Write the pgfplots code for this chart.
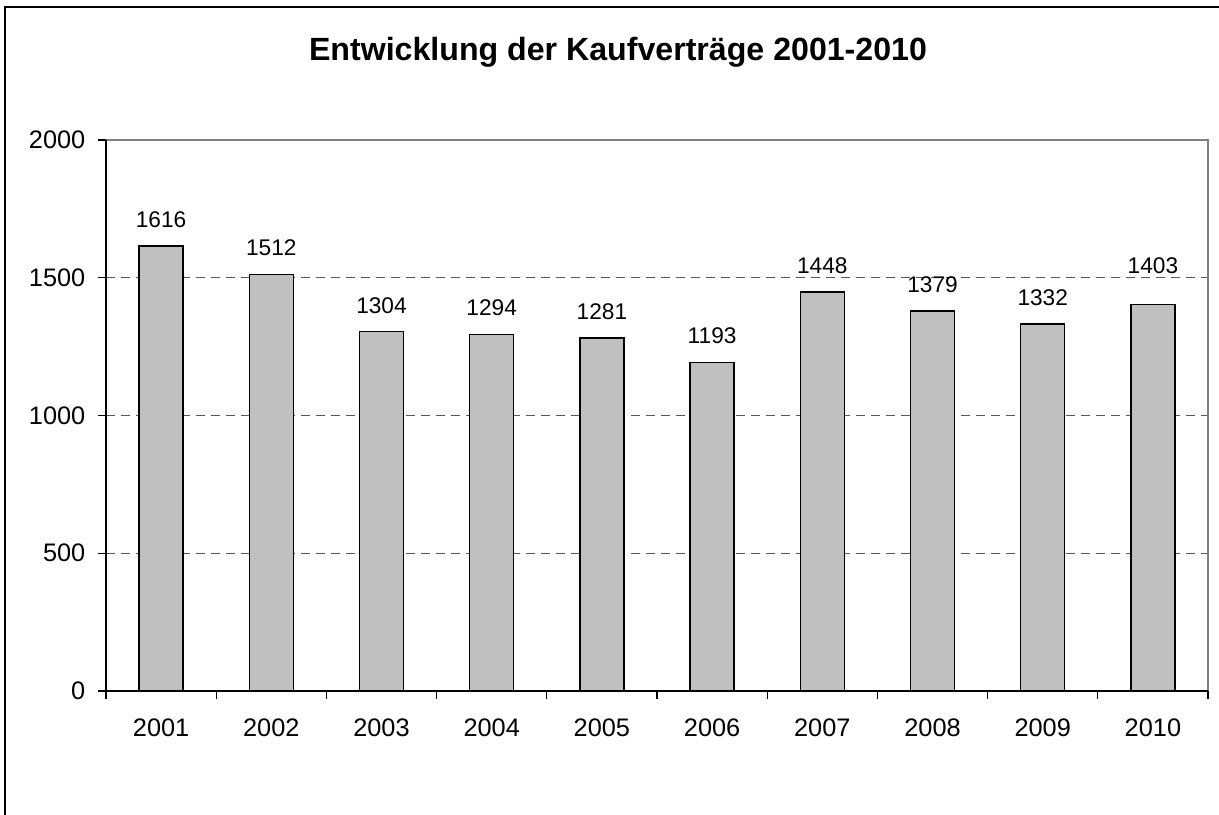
\documentclass[border=0pt]{standalone}
\usepackage{pgfplots}
\usepackage{pgfplotstable}
\pgfplotsset{compat=1.18}
\usepackage{fontspec}
\setmainfont{Liberation Sans}
\definecolor{barfill}{RGB}{192,192,192}
\definecolor{framegray}{RGB}{128,128,128}
\pgfplotstableread{
x y
0 1616
1 1512
2 1304
3 1294
4 1281
5 1193
6 1448
7 1379
8 1332
9 1403
}\datatable
\begin{document}
\begin{tikzpicture}
\useasboundingbox (-79.5pt,-92.25pt) rectangle (834.75pt,518.25pt);
\begin{axis}[
  at={(0pt,0pt)}, anchor=south west,
  scale only axis,
  width=826.5pt, height=413.25pt,
  xmin=-0.5, xmax=9.5,
  ymin=0, ymax=2000,
  ytick={0,500,1000,1500,2000},
  xtick={0,...,9},
  xticklabels={2001,2002,2003,2004,2005,2006,2007,2008,2009,2010},
  minor xtick={-0.5,0.5,...,9.5},
  major x tick style={draw=none},
  tick align=outside,
  tick pos=left,
  major tick length=6pt,
  minor tick length=6pt,
  every tick/.style={black, line width=0.9pt},
  ymajorgrids,
  major grid style={black!65, dash pattern=on 6.75pt off 4.5pt, line width=0.7pt},
  axis line style={draw=none},
  /pgf/number format/assume math mode=true,
  /pgf/number format/1000 sep={},
  ticklabel style={font=\fontsize{19}{22}\selectfont},
  yticklabel style={xshift=-6pt},
  xticklabel style={yshift=-11.5pt},
  ybar, bar width=33pt,
  nodes near coords,
  every node near coord/.append style={font=\fontsize{17}{20}\selectfont, anchor=base, inner sep=0pt, yshift=14pt},
  coordinate style/.condition={x>8.5}{yshift=9pt},
  clip=false,
]
\addplot[fill=barfill, draw=black, line width=1.1pt] table[x=x, y=y] {\datatable};
\draw[framegray, line width=1pt] (rel axis cs:0,1) -- (rel axis cs:1,1) -- (rel axis cs:1,0);
\draw[black, line width=1pt] (rel axis cs:0,1) -- (rel axis cs:0,0) -- (rel axis cs:1,0);
\end{axis}
\node[font=\fontsize{24.1}{29}\selectfont\bfseries] at (384pt,479.25pt) {Entwicklung der Kaufverträge 2001-2010};
\draw[black, line width=1.1pt] (-75.75pt,-100pt) -- (-75.75pt,513pt) -- (840pt,513pt);
\end{tikzpicture}
\end{document}
